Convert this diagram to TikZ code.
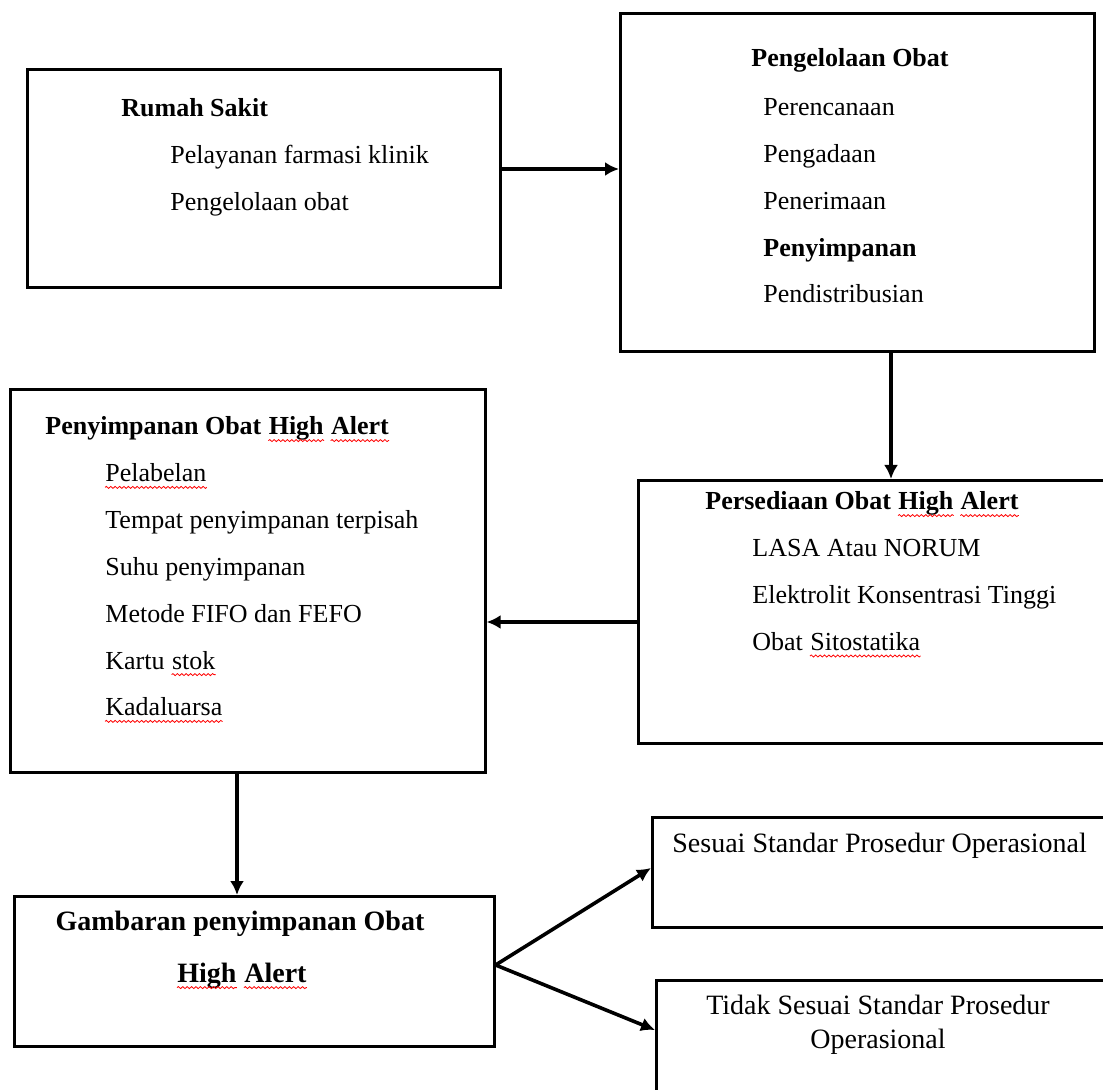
\documentclass[tikz,border=0pt]{standalone}
\usepackage{fontspec}
\setmainfont{Liberation Serif}
\usepackage{xcolor}
\usepackage{tikz}
\usetikzlibrary{shapes,arrows,arrows.meta,positioning,decorations.pathmorphing}

\tikzstyle{box} = [rectangle, draw, line width=1.3pt, inner sep=0pt, anchor=north west]
\tikzstyle{head} = [inner sep=0pt, font=\fontsize{13}{15}\selectfont\bfseries, text height=9pt, text depth=3pt]
\tikzstyle{entry} = [inner sep=0pt, font=\fontsize{13}{15}\selectfont, text height=9pt, text depth=3pt]
\tikzstyle{bighead} = [inner sep=0pt, font=\fontsize{14}{16}\selectfont\bfseries, text height=10pt, text depth=3pt]
\tikzstyle{note} = [inner sep=0pt, font=\fontsize{14}{16}\selectfont, text height=10pt, text depth=3pt]
\tikzstyle{line} = [draw, line width=1.8pt, -{Latex[length=7pt,width=7pt]}]
\tikzstyle{typo} = [draw=red, line width=0.4pt, decorate, decoration={snake, amplitude=0.5pt, segment length=2.2pt}]

\begin{document}
\begin{tikzpicture}[x=0.5pt, y=-0.5pt, node distance=11pt]
      \useasboundingbox (0,0) rectangle (1103,1090);
      % Boxes
      \node [box, minimum width=236.5pt, minimum height=109pt] (rumah) at (26,68) {};
      \node [box, minimum width=237pt, minimum height=169pt] (pengelolaan) at (619,12) {};
      \node [box, minimum width=237.5pt, minimum height=191.5pt] (simpan-ha) at (9,388) {};
      \node [box, minimum width=236pt, minimum height=131.5pt] (sedia-ha) at (637,479) {};
      \node [box, minimum width=240pt, minimum height=75pt] (gambaran) at (13,895) {};
      \node [box, minimum width=232pt, minimum height=55pt] (sesuai) at (651,816) {};
      \node [box, minimum width=230pt, minimum height=60pt] (tidak-sesuai) at (655,979) {};
      % Rumah Sakit
      \node [head, anchor=base west] (rumah-title) at (121,117) {Rumah Sakit};
      \node [entry, below right=11pt and 24.5pt of rumah-title.south west] (farmasi) {Pelayanan farmasi klinik};
      \node [entry, below right=11pt and 0pt of farmasi.south west] (kelola) {Pengelolaan obat};
      % Pengelolaan Obat
      \node [head, anchor=base west] (pengelolaan-title) at (751,67) {Pengelolaan Obat};
      \node [entry, below right=12pt and 6pt of pengelolaan-title.south west] (perencanaan) {Perencanaan};
      \node [entry, below right=11pt and 0pt of perencanaan.south west] (pengadaan) {Pengadaan};
      \node [entry, below right=11pt and 0pt of pengadaan.south west] (penerimaan) {Penerimaan};
      \node [head, below right=11pt and 0pt of penerimaan.south west] (penyimpanan) {Penyimpanan};
      \node [entry, below right=11pt and 0pt of penyimpanan.south west] (distribusi) {Pendistribusian};
      % Penyimpanan Obat High Alert
      \node [head, anchor=base west] (simpan-title) at (45,435) {Penyimpanan Obat};
      \node [head, right=3.3pt of simpan-title] (simpan-high) {High};
      \node [head, right=3.3pt of simpan-high] (simpan-alert) {Alert};
      \node [entry, below right=11pt and 30pt of simpan-title.south west] (pelabelan) {Pelabelan};
      \node [entry, below right=11pt and 0pt of pelabelan.south west] (tempat) {Tempat penyimpanan terpisah};
      \node [entry, below right=11pt and 0pt of tempat.south west] (suhu) {Suhu penyimpanan};
      \node [entry, below right=11pt and 0pt of suhu.south west] (metode) {Metode FIFO dan FEFO};
      \node [entry, below right=11pt and 0pt of metode.south west] (kartu) {Kartu};
      \node [entry, right=3.3pt of kartu] (stok) {stok};
      \node [entry, below right=11pt and 0pt of kartu.south west] (kadaluarsa) {Kadaluarsa};
      % Persediaan Obat High Alert
      \node [head, anchor=base west] (sedia-title) at (705,510) {Persediaan Obat};
      \node [head, right=3.3pt of sedia-title] (sedia-high) {High};
      \node [head, right=3.3pt of sedia-high] (sedia-alert) {Alert};
      \node [entry, below right=11pt and 23.5pt of sedia-title.south west] (lasa) {LASA Atau NORUM};
      \node [entry, below right=11pt and 0pt of lasa.south west] (elektrolit) {Elektrolit Konsentrasi Tinggi};
      \node [entry, below right=11pt and 0pt of elektrolit.south west] (obat) {Obat};
      \node [entry, right=3.3pt of obat] (sitostatika) {Sitostatika};
      % Gambaran
      \node [bighead, anchor=base] (gambaran-title) at (240,930) {Gambaran penyimpanan Obat};
      \node [bighead, anchor=base west] (gambaran-high) at (177,982) {High};
      \node [bighead, right=3.5pt of gambaran-high] (gambaran-alert) {Alert};
      % Hasil
      \node [note, anchor=base west] (sesuai-title) at (672,852) {Sesuai Standar Prosedur Operasional};
      \node [note, anchor=base] (tidak-title) at (878,1014) {Tidak Sesuai Standar Prosedur};
      \node [note, below=4pt of tidak-title] (tidak-op) {Operasional};
      % Spell check marks
      \foreach \w in {simpan-high, simpan-alert, pelabelan, stok, kadaluarsa,
                      sedia-high, sedia-alert, sitostatika, gambaran-high, gambaran-alert}
        \path [typo] ([yshift=-2.8pt]\w.base west) -- ([yshift=-2.8pt]\w.base east);
      % Edge rows
      \coordinate (row-a) at (0,169);
      \coordinate (col-b) at (891,0);
      \coordinate (row-c) at (0,622);
      \coordinate (col-d) at (237,0);
      \coordinate (row-e) at (0,965);
      \coordinate (row-f) at (0,868);
      \coordinate (row-g) at (0,1030);
      % Draw edges
      \path [line] (rumah.east |- row-a) -- (pengelolaan.west |- row-a);
      \path [line] (pengelolaan.south -| col-b) -- (sedia-ha.north -| col-b);
      \path [line] (sedia-ha.west |- row-c) -- (simpan-ha.east |- row-c);
      \path [line] (simpan-ha.south -| col-d) -- (gambaran.north -| col-d);
      \path [line] (gambaran.east |- row-e) -- (sesuai.west |- row-f);
      \path [line] (gambaran.east |- row-e) -- (tidak-sesuai.west |- row-g);
  \end{tikzpicture}
\end{document}
